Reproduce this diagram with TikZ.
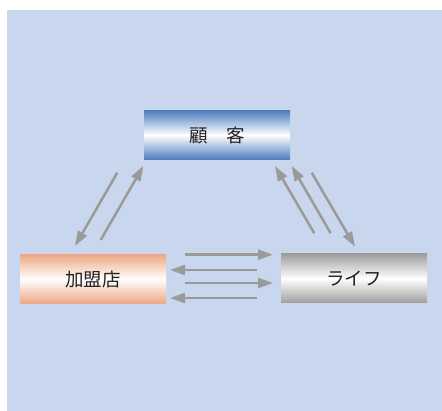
\documentclass[tikz,border=0pt]{standalone}
\usepackage{fontspec}
\newfontfamily\jpfont{Noto Sans CJK JP}
\usetikzlibrary{arrows.meta}
\definecolor{bgblue}{HTML}{C8D7EE}
\definecolor{boxblue}{HTML}{4E7DC0}
\definecolor{boxsalmon}{HTML}{EDA785}
\definecolor{boxgray}{HTML}{9E9E9E}
\definecolor{arrowgray}{HTML}{9A9A9A}
\definecolor{txt}{HTML}{222222}
\tikzset{
  box/.style={minimum width=146pt, minimum height=49pt, inner sep=0pt,
    font=\jpfont\fontsize{18.5}{20}\selectfont, text=txt},
  flow/.style={draw=arrowgray, line width=2.5pt,
    -{Triangle[length=15pt,width=10pt]}}
}
\begin{document}
\begin{tikzpicture}[x=1pt,y=-1pt]
\useasboundingbox (0,0) rectangle (442,411);
\fill[bgblue] (7,10) rectangle (442,411);
\node[box, top color=boxblue, bottom color=boxblue, middle color=white] (kok) at (217,135) {顧\hspace{1em}客};
\node[box, top color=boxsalmon, bottom color=boxsalmon, middle color=white] (kam) at (93,279) {加盟店};
\node[box, top color=boxgray, bottom color=boxgray, middle color=white] (lif) at (354,278.5) {ライフ};
% horizontal
\coordinate (h1a) at (185,254.7); \coordinate (h1b) at (273,254.7);
\coordinate (h2a) at (257,270);   \coordinate (h2b) at (170,270);
\coordinate (h3a) at (185,283);   \coordinate (h3b) at (273,283);
\coordinate (h4a) at (257,298);   \coordinate (h4b) at (170,298);
\draw[flow] (h1a) -- (h1b);
\draw[flow] (h2a) -- (h2b);
\draw[flow] (h3a) -- (h3b);
\draw[flow] (h4a) -- (h4b);
% left diagonal
\coordinate (la) at (117.3,172.7); \coordinate (lb) at (75,246);
\coordinate (lc) at (100.7,240);   \coordinate (ld) at (143.3,166);
\draw[flow] (la) -- (lb);
\draw[flow] (lc) -- (ld);
% right diagonal
\coordinate (ra) at (314.3,233.3); \coordinate (rb) at (275,166);
\coordinate (rc) at (330.7,233.3); \coordinate (rd) at (291.7,166);
\coordinate (re) at (311.7,172.7); \coordinate (rf) at (355,246.7);
\draw[flow] (ra) -- (rb);
\draw[flow] (rc) -- (rd);
\draw[flow] (re) -- (rf);
\end{tikzpicture}
\end{document}
